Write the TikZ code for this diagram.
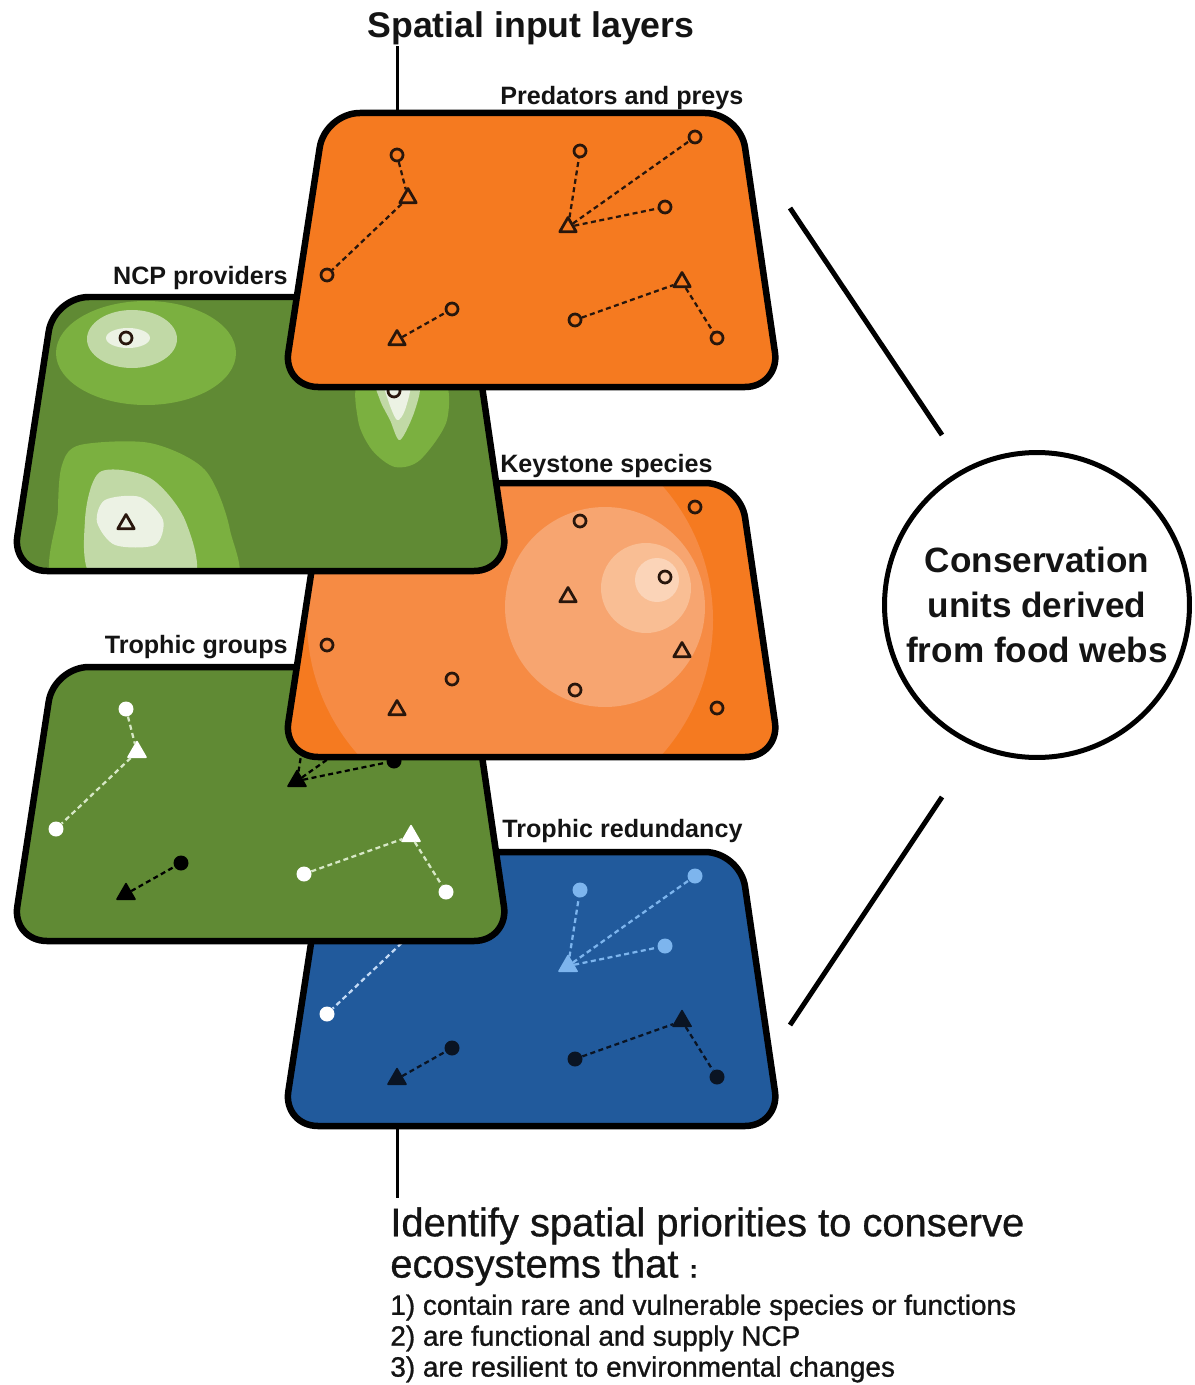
\documentclass[tikz,border=0pt]{standalone}
\usepackage{fontspec}
\setmainfont{Liberation Sans}
\usepackage{tikz}
\usetikzlibrary{shapes.geometric, positioning}

\definecolor{orangelayer}{RGB}{245,122,32}
\definecolor{keylight1}{RGB}{246,139,68}
\definecolor{keylight2}{RGB}{247,165,112}
\definecolor{keylight3}{RGB}{249,190,148}
\definecolor{keylight4}{RGB}{251,212,184}
\definecolor{greenlayer}{RGB}{96,138,52}
\definecolor{greenmid}{RGB}{123,176,64}
\definecolor{greenpale}{RGB}{193,217,166}
\definecolor{greenwhite}{RGB}{236,242,228}
\definecolor{bluelayer}{RGB}{33,90,156}
\definecolor{bluelight}{RGB}{125,181,238}
\definecolor{markdark}{RGB}{40,22,12}
\definecolor{navydark}{RGB}{10,20,35}
\definecolor{textdark}{RGB}{20,20,20}
\definecolor{webgreen}{RGB}{215,232,198}
\definecolor{webblue}{RGB}{195,218,245}

\begin{document}
\begin{tikzpicture}[
  x=0.02cm, y=-0.02cm,
  layer/.style={draw=black, line width=0.13cm, line join=round},
  layershape/.style={rounded corners=0.7cm, insert path={(42,0) -- (457,0) -- (497,274) -- (0,274) -- cycle}},
  ring/.style={circle, draw=#1, line width=0.055cm, minimum size=0.24cm, inner sep=0pt},
  ring/.default=markdark,
  tri/.style={regular polygon, regular polygon sides=3, draw=#1, line width=0.055cm, line join=round, minimum size=0.38cm, inner sep=0pt},
  tri/.default=markdark,
  dot/.style={circle, fill=#1, minimum size=0.30cm, inner sep=0pt},
  dot/.default=black,
  tridot/.style={regular polygon, regular polygon sides=3, fill=#1, draw=#1, line width=0.03cm, line join=round, minimum size=0.42cm, inner sep=0pt},
  tridot/.default=black,
  web/.style={draw=#1, line width=0.045cm, dash pattern=on 0.1cm off 0.07cm},
  web/.default=markdark,
  layer_label/.style={font=\fontsize{14.3}{16}\selectfont\bfseries, text=textdark, inner sep=0pt},
  title_text/.style={font=\fontsize{20.3}{24}\selectfont\bfseries, text=textdark, inner sep=0pt},
  unit_circle/.style={circle, draw=black, line width=0.1cm, minimum size=6.1cm, align=center, inner sep=0pt, font=\fontsize{20}{25.5}\selectfont\bfseries, text=textdark},
  goal_text/.style={font=\fontsize{22.7}{23.5}\selectfont\addfontfeature{FakeBold=0.8}, align=left, inner sep=0pt, text=textdark},
  criteria_text/.style={font=\fontsize{15.9}{17.6}\selectfont\addfontfeature{FakeBold=1}, align=left, inner sep=0pt, text=textdark},
  link/.style={line width=0.1cm},
  stem/.style={line width=0.06cm}
]
\useasboundingbox (0,0) rectangle (1195,1385);

% Trophic redundancy
\begin{scope}[shift={(283,852)}]
  \draw[layer, fill=bluelayer, layershape];
  \node[dot=white] (rA) at (114,42) {};
  \node[tridot=white] (rB) at (125,85) {};
  \node[dot=white] (rC) at (44,162) {};
  \node[dot=navydark] (rD) at (169,196) {};
  \node[tridot=navydark] (rE) at (114,227) {};
  \node[dot=bluelight] (rF) at (297,38) {};
  \node[dot=bluelight] (rG) at (412,24) {};
  \node[dot=bluelight] (rH) at (382,94) {};
  \node[tridot=bluelight] (rI) at (285,114) {};
  \node[tridot=navydark] (rJ) at (399,169) {};
  \node[dot=navydark] (rK) at (292,207) {};
  \node[dot=navydark] (rL) at (434,225) {};
  \draw[web=webblue] (rA) -- (rB) -- (rC);
  \draw[web=navydark] (rE) -- (rD);
  \draw[web=bluelight] (rI) -- (rF) (rI) -- (rG) (rI) -- (rH);
  \draw[web=navydark] (rK) -- (rJ) -- (rL);
  \coordinate (botlink) at (114,274);
\end{scope}

% Trophic groups
\begin{scope}[shift={(12,667)}]
  \draw[layer, fill=greenlayer, layershape];
  \node[dot=white] (gA) at (114,42) {};
  \node[tridot=white] (gB) at (125,85) {};
  \node[dot=white] (gC) at (44,162) {};
  \node[dot] (gD) at (169,196) {};
  \node[tridot] (gE) at (114,227) {};
  \node[dot] (gF) at (297,38) {};
  \node[dot] (gG) at (412,24) {};
  \node[dot] (gH) at (382,94) {};
  \node[tridot] (gI) at (285,114) {};
  \node[tridot=white] (gJ) at (399,169) {};
  \node[dot=white] (gK) at (292,207) {};
  \node[dot=white] (gL) at (434,225) {};
  \draw[web=webgreen] (gA) -- (gB) -- (gC);
  \draw[web=black] (gE) -- (gD);
  \draw[web=black] (gI) -- (gF) (gI) -- (gG) (gI) -- (gH);
  \draw[web=webgreen] (gK) -- (gJ) -- (gL);
\end{scope}

% Keystone species
\begin{scope}[shift={(283,483)}]
  \fill[orangelayer, layershape];
  \begin{scope}
    \clip[layershape];
    \fill[keylight1] (227,137) circle[radius=203];
    \fill[keylight2] (322,124) circle[radius=100];
    \fill[keylight3] (363,105) circle[radius=45];
    \fill[keylight4] (374,97) circle[radius=22];
  \end{scope}
  \draw[layer, layershape];
  \node[ring] (kC) at (44,162) {};
  \node[ring] (kD) at (169,196) {};
  \node[tri] (kE) at (114,227) {};
  \node[ring] (kF) at (297,38) {};
  \node[ring] (kG) at (412,24) {};
  \node[ring] (kH) at (382,94) {};
  \node[tri] (kI) at (285,114) {};
  \node[tri] (kJ) at (399,169) {};
  \node[ring] (kK) at (292,207) {};
  \node[ring] (kL) at (434,225) {};
\end{scope}

% NCP providers
\begin{scope}[shift={(12,297)}]
  \fill[greenlayer, layershape];
  \begin{scope}
    \clip[layershape];
    \fill[greenmid] (134,56) ellipse[x radius=90, y radius=52];
    \fill[greenpale] (120,42) ellipse[x radius=45, y radius=29];
    \fill[greenwhite] (116,41) ellipse[x radius=22, y radius=10];
    \fill[greenmid] plot[smooth cycle] coordinates {(350,80) (428,78) (435,123) (408,163) (383,170) (360,153) (346,123)};
    \fill[greenpale] plot[smooth cycle] coordinates {(366,85) (406,85) (403,113) (388,143) (378,123) (368,103)};
    \fill[greenwhite] plot[smooth cycle] coordinates {(373,85) (398,85) (393,113) (385,123) (376,103)};
    \fill[greenmid] plot[smooth cycle] coordinates {(68,148) (138,146) (193,173) (218,233) (216,293) (48,293) (46,213) (50,168)};
    \fill[greenpale] plot[smooth cycle] coordinates {(88,175) (138,181) (173,223) (180,283) (83,283) (73,223)};
    \fill[greenwhite] plot[smooth cycle] coordinates {(93,203) (128,200) (151,223) (143,248) (103,248) (85,225)};
  \end{scope}
  \draw[layer, layershape];
  \node[ring] (nA) at (114,41) {};
  \node[tri] (nE) at (114,227) {};
  \node[ring] (nH) at (382,94) {};
\end{scope}

% Predators and preys
\begin{scope}[shift={(283,113)}]
  \draw[layer, fill=orangelayer, layershape];
  \node[ring] (pA) at (114,42) {};
  \node[tri] (pB) at (125,85) {};
  \node[ring] (pC) at (44,162) {};
  \node[ring] (pD) at (169,196) {};
  \node[tri] (pE) at (114,227) {};
  \node[ring] (pF) at (297,38) {};
  \node[ring] (pG) at (412,24) {};
  \node[ring] (pH) at (382,94) {};
  \node[tri] (pI) at (285,114) {};
  \node[tri] (pJ) at (399,169) {};
  \node[ring] (pK) at (292,207) {};
  \node[ring] (pL) at (434,225) {};
  \draw[web] (pA) -- (pB) -- (pC);
  \draw[web] (pE) -- (pD);
  \draw[web] (pI) -- (pF) (pI) -- (pG) (pI) -- (pH);
  \draw[web] (pK) -- (pJ) -- (pL);
  \coordinate (toplink) at (114,0);
\end{scope}

% Labels
\node[layer_label, anchor=base west] (predlabel) at (500,105) {Predators and preys};
\node[layer_label, anchor=base east] (ncplabel) at (288,285) {NCP providers};
\node[layer_label, anchor=base west] (keylabel) at (500,472) {Keystone species};
\node[layer_label, anchor=base east] (grouplabel) at (288,653) {Trophic groups};
\node[layer_label, anchor=base west] (redlabel) at (502,837) {Trophic redundancy};

\node[title_text, anchor=base] (inputs) at (531,38) {Spatial input layers};
\draw[stem] (toplink) -- (toplink |- inputs.south);

% Conservation units
\node[unit_circle] (units) at (1037,605) {Conservation\\units derived\\from food webs};
\coordinate (linkA) at (790,208);
\coordinate (linkB) at (942,435);
\coordinate (linkC) at (942,797);
\coordinate (linkD) at (790,1025);
\draw[link] (linkA) -- (linkB);
\draw[link] (linkC) -- (linkD);

% Goals
\node[goal_text, anchor=north west] (goal) at (390,1207) {Identify spatial priorities to conserve\\ecosystems that {\fontsize{14}{14}\selectfont\bfseries :}};
\node[criteria_text, below right=0.16cm and 0cm of goal.south west] (criteria) {1) contain rare and vulnerable species or functions\\2) are functional and supply NCP\\3) are resilient to environmental changes};
\draw[stem, shorten >=0.18cm] (botlink) -- (botlink |- goal.north);

\end{tikzpicture}
\end{document}
